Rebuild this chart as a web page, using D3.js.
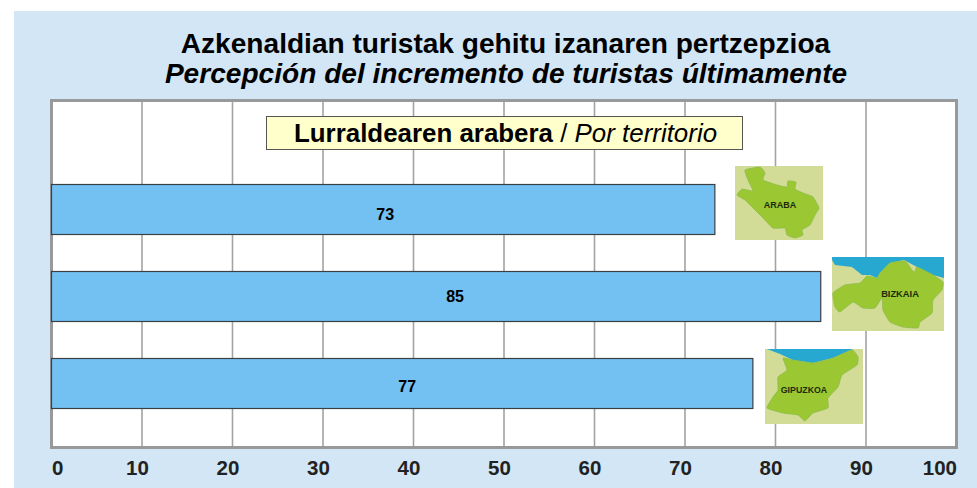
<!DOCTYPE html>
<html><head><meta charset="utf-8">
<script src="https://cdn.jsdelivr.net/npm/d3@7"></script>
<style>html,body{margin:0;padding:0;background:#fff;overflow:hidden}svg{display:block}text{font-family:"Liberation Sans",Arial,sans-serif}</style>
</head><body>
<svg id="c" width="977" height="488"></svg>
<script>
const territories = ["ARABA","BIZKAIA","GIPUZKOA"];
const values = [73.3,85,77.5];
const valueLabels = ["73","85","77"];
const ticks = [0,10,20,30,40,50,60,70,80,90,100];
const titleEu = "Azkenaldian turistak gehitu izanaren pertzepzioa";
const titleEs = "Percepción del incremento de turistas últimamente";
const boxBold = "Lurraldearen arabera";
const boxItalic = "Por territorio";

const svg = d3.select("#c");
svg.append("rect").attr("x",14).attr("y",11).attr("width",963).attr("height",477).attr("fill","#d2e6f5");

const x = d3.scaleLinear().domain([0,100]).range([51.5,956.5]);
const y0 = 184, step = 87, bh = 50;
const yy = d3.scalePoint().domain(territories).range([y0, y0+2*step]);

svg.append("text").attr("x",505.5).attr("y",53).attr("text-anchor","middle")
  .attr("font-size",28.1).attr("font-weight","bold").attr("fill","#000").text(titleEu);
svg.append("text").attr("x",506).attr("y",82.5).attr("text-anchor","middle")
  .attr("font-size",28.1).attr("font-weight","bold").attr("font-style","italic").attr("fill","#000").text(titleEs);

// plot area
svg.append("rect").attr("x",51.5).attr("y",100.5).attr("width",905).attr("height",347)
  .attr("fill","#fff").attr("stroke","#999").attr("stroke-width",3);
svg.append("g").selectAll("line").data(ticks.slice(1,-1)).join("line")
  .attr("x1",d=>x(d)).attr("x2",d=>x(d)).attr("y1",102).attr("y2",446)
  .attr("stroke","#a3a3a3").attr("stroke-width",1.6);

// axis labels
const axis = d3.axisBottom(x).tickValues(ticks).tickSize(0).tickPadding(0);
const ga = svg.append("g").attr("transform","translate(0,460)").call(axis);
ga.select(".domain").remove();
ga.selectAll("text").attr("font-size",20.5).attr("font-weight","bold").attr("fill","#222")
  .style("font-family",'"Liberation Sans",Arial,sans-serif')
  .attr("y",0).attr("dy","0.72em")
  .attr("text-anchor",d=>d===0?"start":d===100?"end":"middle")
  .attr("dx",d=>d===0?0:d===100?0:-5);

// box
svg.append("rect").attr("x",266.5).attr("y",116.5).attr("width",476).attr("height",33)
  .attr("fill","#ffffcc").attr("stroke","#555").attr("stroke-width",1);
const bt = svg.append("text").attr("x",505.5).attr("y",142).attr("text-anchor","middle").attr("font-size",25.9).attr("fill","#000");
bt.append("tspan").attr("font-weight","bold").text(boxBold);
bt.append("tspan").text(" / ");
bt.append("tspan").attr("font-style","italic").text(boxItalic);

// bars
svg.append("g").selectAll("rect").data(territories).join("rect")
  .attr("x",x(0)).attr("y",d=>yy(d)+.5).attr("width",(d,i)=>x(values[i])-x(0)).attr("height",bh)
  .attr("fill","#73c1f3").attr("stroke","#3a3f44").attr("stroke-width",1.2);
svg.append("g").selectAll("text").data(territories).join("text")
  .attr("x",(d,i)=>x(0)+(x(values[i])-x(0))/2+[2,19,5][i]).attr("y",(d,i)=>yy(d)+[36,31,34][i])
  .attr("text-anchor","middle").attr("font-size",16).attr("font-weight","bold").attr("fill","#000")
  .text((d,i)=>valueLabels[i]);

// decorative map thumbnails, traced in thumbnail coordinates
const land = "#9bc832", ground = "#d2dc96", sea = "#27a8d0";
const maps = [
 {name:"ARABA",x:735,y:166,w:88,h:74,lx:45,ly:42,fs:9,
  sea:null,
  green:[[10,4],[25,1],[30,7],[28,14],[42,19],[52,21],[53,15],[61,16],[60,23],[68,27],[78,31],[84,42],[80,49],[75,59],[67,64],[68,69],[60,72],[52,69],[50,62],[38,62],[28,52],[18,42],[10,34],[2,29],[7,23],[18,25],[13,14]]},
 {name:"BIZKAIA",x:832,y:257,w:112,h:74,lx:68,ly:40,fs:9.3,
  sea:[[0,0],[112,0],[112,21],[101,18],[85,10],[72,3],[58,6],[48,16],[45,21],[38,18],[30,18],[20,10],[3,8],[0,3]],
  green:[[1,36],[13,28],[28,26],[35,19],[45,21],[48,16],[58,6],[73,4],[80,13],[83,15],[85,10],[101,18],[111,25],[110,33],[101,43],[100,56],[88,65],[86,71],[71,70],[58,65],[51,53],[50,41],[43,51],[31,51],[21,45],[8,55],[3,50]]},
 {name:"GIPUZKOA",x:765,y:349,w:98,h:75,lx:39,ly:44,fs:8.8,
  sea:[[2,0],[98,0],[88,0],[68,9],[48,14],[28,11],[15,5]],
  green:[[18,9],[22,21],[13,28],[13,41],[8,48],[2,59],[18,64],[33,66],[40,72],[48,64],[63,59],[63,49],[73,38],[77,26],[92,16],[93,8],[87,1],[68,9],[48,14],[28,11]]}
];
const line = d3.line().curve(d3.curveCardinalClosed.tension(.6));
const mg = svg.append("g").selectAll("g").data(maps).join("g").attr("transform",d=>`translate(${d.x},${d.y})`);
mg.append("rect").attr("width",d=>d.w).attr("height",d=>d.h).attr("fill",ground);
mg.filter(d=>d.sea).append("path").attr("d",d=>"M"+d.sea.join("L")+"Z").attr("fill",sea);
mg.append("path").attr("d",d=>line(d.green)).attr("fill",land).attr("stroke","#8cbb4a").attr("stroke-width",.8);
mg.append("text").attr("x",d=>d.lx).attr("y",d=>d.ly).attr("text-anchor","middle")
  .attr("font-size",d=>d.fs).attr("font-weight","bold").attr("fill","#1d2b0a").text(d=>d.name);
</script>
</body></html>
